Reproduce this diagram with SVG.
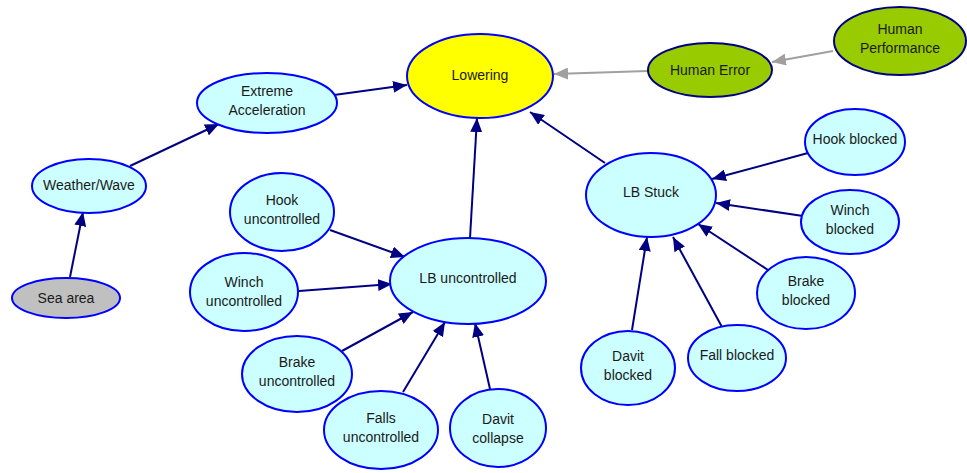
<svg xmlns="http://www.w3.org/2000/svg" width="967" height="473" viewBox="0 0 967 473">
<style>
.n{fill:#ccffff;stroke:#0000ff;stroke-width:2}
.lo{fill:#ffff00;stroke:#0000ff;stroke-width:2}
.hu{fill:#99cc00;stroke:#000080;stroke-width:2}
.sa{fill:#c0c0c0;stroke:#0000ff;stroke-width:2}
text{font-family:"Liberation Sans",Arial,sans-serif;font-size:14px;fill:#1a1a1a;text-anchor:middle}
.e line{stroke:#000080;stroke-width:2;marker-end:url(#a)}
.e line.g{stroke:#a0a0a0;marker-end:url(#ag)}
</style>
<defs>
<marker id="a" markerUnits="userSpaceOnUse" markerWidth="14" markerHeight="12" refX="14" refY="6" orient="auto"><path d="M0,0 L14,6 L0,12 z" fill="#000080"/></marker>
<marker id="ag" markerUnits="userSpaceOnUse" markerWidth="14" markerHeight="12" refX="14" refY="6" orient="auto"><path d="M0,0 L14,6 L0,12 z" fill="#a0a0a0"/></marker>
</defs>
<rect width="967" height="473" fill="#ffffff"/>
<g class="e" id="connectors">
<line x1="334" y1="95" x2="407" y2="85"/>
<line x1="130" y1="166" x2="219" y2="124"/>
<line x1="70" y1="277" x2="83" y2="212"/>
<line x1="470" y1="238" x2="477" y2="118"/>
<line x1="605" y1="163" x2="530" y2="112"/>
<line class="g" x1="648" y1="71" x2="554" y2="74"/>
<line class="g" x1="833" y1="51" x2="772" y2="62"/>
<line x1="330" y1="230" x2="405" y2="257"/>
<line x1="299" y1="291" x2="392" y2="284"/>
<line x1="342" y1="351" x2="413" y2="312"/>
<line x1="403" y1="392" x2="445" y2="322"/>
<line x1="490" y1="389" x2="475" y2="323"/>
<line x1="808" y1="153" x2="712" y2="179"/>
<line x1="803" y1="216" x2="716" y2="203"/>
<line x1="768" y1="270" x2="698" y2="224"/>
<line x1="722" y1="327" x2="673" y2="237"/>
<line x1="632" y1="330" x2="647" y2="237"/>
</g>
<g id="lowering"><ellipse class="lo" cx="480" cy="76" rx="73" ry="42"/><text x="480" y="80">Lowering</text></g>
<g id="human-error"><ellipse class="hu" cx="710" cy="70" rx="62" ry="27"/><text x="710" y="75">Human Error</text></g>
<g id="human-performance"><ellipse class="hu" cx="900" cy="41" rx="66" ry="34"/><text x="900" y="34">Human</text><text x="900" y="53">Performance</text></g>
<g id="extreme-acceleration"><ellipse class="n" cx="267" cy="103" rx="70" ry="30"/><text x="267" y="96">Extreme</text><text x="267" y="115">Acceleration</text></g>
<g id="weather-wave"><ellipse class="n" cx="89" cy="186" rx="57" ry="27"/><text x="89" y="190">Weather/Wave</text></g>
<g id="sea-area"><ellipse class="sa" cx="66" cy="298" rx="54" ry="20"/><text x="66" y="303">Sea area</text></g>
<g id="lb-stuck"><ellipse class="n" cx="651" cy="195" rx="65" ry="42"/><text x="651" y="197">LB Stuck</text></g>
<g id="hook-blocked"><ellipse class="n" cx="855" cy="142" rx="50" ry="33"/><text x="855" y="144">Hook blocked</text></g>
<g id="winch-blocked"><ellipse class="n" cx="850" cy="222" rx="49" ry="32"/><text x="850" y="215">Winch</text><text x="850" y="234">blocked</text></g>
<g id="brake-blocked"><ellipse class="n" cx="806" cy="293" rx="49" ry="36"/><text x="806" y="286">Brake</text><text x="806" y="305">blocked</text></g>
<g id="fall-blocked"><ellipse class="n" cx="737" cy="358" rx="49" ry="33"/><text x="737" y="360">Fall blocked</text></g>
<g id="davit-blocked"><ellipse class="n" cx="628" cy="368" rx="47" ry="37"/><text x="628" y="361">Davit</text><text x="628" y="380">blocked</text></g>
<g id="lb-uncontrolled"><ellipse class="n" cx="468" cy="281" rx="78" ry="43"/><text x="468" y="283">LB uncontrolled</text></g>
<g id="hook-uncontrolled"><ellipse class="n" cx="282" cy="212" rx="52" ry="39"/><text x="282" y="205">Hook</text><text x="282" y="224">uncontrolled</text></g>
<g id="winch-uncontrolled"><ellipse class="n" cx="244" cy="292" rx="54" ry="39"/><text x="244" y="287">Winch</text><text x="244" y="306">uncontrolled</text></g>
<g id="brake-uncontrolled"><ellipse class="n" cx="297" cy="374" rx="55" ry="38"/><text x="297" y="367">Brake</text><text x="297" y="386">uncontrolled</text></g>
<g id="falls-uncontrolled"><ellipse class="n" cx="381" cy="430" rx="57" ry="39"/><text x="381" y="423">Falls</text><text x="381" y="442">uncontrolled</text></g>
<g id="davit-collapse"><ellipse class="n" cx="498" cy="428" rx="48" ry="39"/><text x="498" y="424">Davit</text><text x="498" y="443">collapse</text></g>
</svg>
